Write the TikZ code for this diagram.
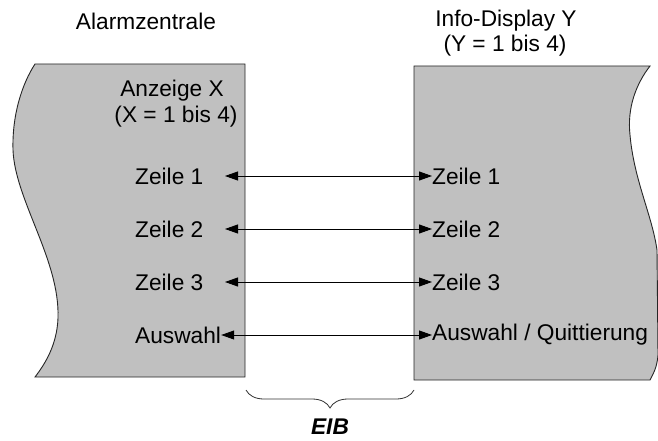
\documentclass[tikz,border=0pt]{standalone}
\usepackage{fontspec}
\setmainfont{Liberation Sans}
\usetikzlibrary{arrows.meta,decorations.pathreplacing}
\definecolor{panelgray}{HTML}{C0C0C0}
\begin{document}
\begin{tikzpicture}[x=1pt, y=-1pt, >={Triangle[length=13pt,width=9pt]},
		lbl/.style={font=\fontsize{22.7}{27}\selectfont, inner sep=0pt},
		panel/.style={fill=panelgray, draw=black!85, line width=0.9pt}]
		\useasboundingbox (0,0) rectangle (658,441);
		% Alarmzentrale
		\draw[panel] (245,64) -- (35,64) .. controls (22,84) and (12,115) .. (13,150)
			.. controls (15,200) and (60,260) .. (58,318) .. controls (57,345) and (45,364) .. (35,377)
			-- (245,377) -- cycle;
		% Info-Display
		\draw[panel] (414,66) -- (650,66) .. controls (636,84) and (627,108) .. (630,135)
			.. controls (634,180) and (652,215) .. (657,250) -- (658,355)
			.. controls (657,368) and (653,374) .. (650,380) -- (414,380) -- cycle;
		\node[lbl] (zentrale) at (146,21) {Alarmzentrale};
		\node[lbl] (display) at (506,21) {Info-Display Y};
		\node[lbl] (displayn) at (505,46) {(Y = 1 bis 4)};
		\node[lbl] (anzeige) at (172,91) {Anzeige X};
		\node[lbl] (anzeigen) at (176,117) {(X = 1 bis 4)};
		\node[lbl, anchor=west] (l1) at (135,176) {Zeile 1};
		\node[lbl, anchor=west] (l2) at (135,229) {Zeile 2};
		\node[lbl, anchor=west] (l3) at (135,282) {Zeile 3};
		\node[lbl, anchor=west] (l4) at (135,335) {Auswahl};
		\node[lbl, anchor=west] (r1) at (432,176) {Zeile 1};
		\node[lbl, anchor=west] (r2) at (432,229) {Zeile 2};
		\node[lbl, anchor=west] (r3) at (432,282) {Zeile 3};
		\node[lbl, anchor=west] (r4) at (432,335) {Auswahl / Quittierung};
		\coordinate (a1) at (225,176);
		\coordinate (a2) at (225,229);
		\coordinate (a3) at (225,282);
		\coordinate (a4) at (l4.east);
		\draw[<->, line width=0.9pt] (a1) -- (r1.west);
		\draw[<->, line width=0.9pt] (a2) -- (r2.west);
		\draw[<->, line width=0.9pt] (a3) -- (r3.west);
		\draw[<->, line width=0.9pt] (a4) -- (r4.west);
		% EIB
		\coordinate (bl) at (246,390);
		\coordinate (br) at (414,390);
		\draw[black!80, line width=0.8pt, decorate, decoration={brace, mirror, amplitude=18pt}] (bl) -- (br);
		\node[lbl, font=\fontsize{22.7}{27}\selectfont\bfseries\itshape] (eib) at (330,427) {EIB};
	\end{tikzpicture}
\end{document}
